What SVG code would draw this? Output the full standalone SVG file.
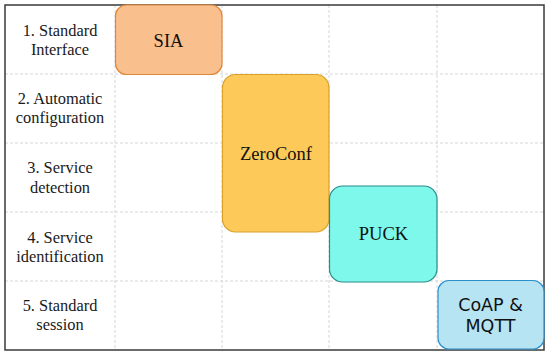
<svg xmlns="http://www.w3.org/2000/svg" width="550" height="357" viewBox="0 0 550 357">
<style>
.grid{stroke:#d6d6d6;stroke-width:1;stroke-dasharray:3 2;fill:none}
.lbl{font-family:'Liberation Serif','Times New Roman',Times,serif;font-size:16.4px;fill:#1a1a1a;text-anchor:middle}
.node text{font-family:'Liberation Serif','Times New Roman',Times,serif;font-size:18.5px;fill:#111;text-anchor:middle}
.node text.sans{font-family:'DejaVu Sans','Liberation Sans',sans-serif;font-size:17.5px}
</style>
<rect width="550" height="357" fill="#fff"/>
<g id="grid">
<line class="grid" x1="5" y1="74" x2="544" y2="74"/>
<line class="grid" x1="5" y1="143" x2="544" y2="143"/>
<line class="grid" x1="5" y1="212" x2="544" y2="212"/>
<line class="grid" x1="5" y1="281" x2="544" y2="281"/>
<line class="grid" x1="115" y1="5" x2="115" y2="350"/>
<line class="grid" x1="222" y1="5" x2="222" y2="350"/>
<line class="grid" x1="329" y1="5" x2="329" y2="350"/>
<line class="grid" x1="437" y1="5" x2="437" y2="350"/>
<rect x="5" y="5" width="539" height="345" fill="none" stroke="#3a3a3a" stroke-width="1.5"/>
</g>
<g id="row-labels">
<text class="lbl" x="60" y="36">1. Standard</text>
<text class="lbl" x="60" y="55">Interface</text>
<text class="lbl" x="60" y="104">2. Automatic</text>
<text class="lbl" x="60" y="123">configuration</text>
<text class="lbl" x="60" y="173">3. Service</text>
<text class="lbl" x="60" y="193">detection</text>
<text class="lbl" x="60" y="243">4. Service</text>
<text class="lbl" x="60" y="262">identification</text>
<text class="lbl" x="60" y="311">5. Standard</text>
<text class="lbl" x="60" y="330">session</text>
</g>
<g id="sia" class="node">
<rect x="115.5" y="5" width="106.5" height="69.5" rx="11" fill="#f9c08d" stroke="#e0883a" stroke-width="1.2"/>
<text x="168.5" y="47">SIA</text>
</g>
<g id="zeroconf" class="node">
<rect x="222.5" y="74.5" width="106.5" height="157.5" rx="13" fill="#fdca5a" stroke="#d9a02a" stroke-width="1.2"/>
<text x="276" y="160">ZeroConf</text>
</g>
<g id="puck" class="node">
<rect x="329.5" y="186" width="107.5" height="96" rx="13" fill="#7ef8ea" stroke="#2a8c8c" stroke-width="1.2"/>
<text x="383.5" y="240">PUCK</text>
</g>
<g id="coap" class="node">
<rect x="438" y="280.5" width="106" height="68.5" rx="11" fill="#b6e4f3" stroke="#2b8fcc" stroke-width="1.2"/>
<text class="sans" x="490.5" y="311">CoAP &amp;</text>
<text class="sans" x="490.5" y="332">MQTT</text>
</g>
</svg>
